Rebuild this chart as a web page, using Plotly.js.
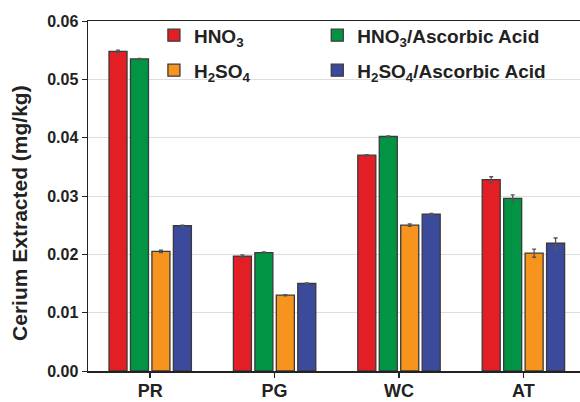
<!DOCTYPE html>
<html>
<head>
<meta charset="utf-8">
<script src="https://cdn.plot.ly/plotly-3.0.1.min.js"></script>
<style>html,body{margin:0;padding:0;background:#fff;}#chart{width:580px;height:402px;}</style>
</head>
<body>
<div id="chart"></div>
<script>
const categories = ["PR", "PG", "WC", "AT"];
const seriesNames = ["HNO<sub>3</sub>", "HNO<sub>3</sub>/Ascorbic Acid", "H<sub>2</sub>SO<sub>4</sub>", "H<sub>2</sub>SO<sub>4</sub>/Ascorbic Acid"];
const hno3 = [0.0548, 0.0197, 0.0370, 0.0328];
const hno3Asc = [0.0535, 0.0203, 0.0402, 0.0296];
const h2so4 = [0.0205, 0.0130, 0.0250, 0.0202];
const h2so4Asc = [0.0249, 0.0150, 0.0269, 0.0219];
const hno3Err = [0.0002, 0.0002, 0.0001, 0.0005];
const hno3AscErr = [0.0001, 0.0001, 0.0001, 0.0006];
const h2so4Err = [0.0002, 0.0001, 0.0002, 0.0007];
const h2so4AscErr = [0.0001, 0.0001, 0.0001, 0.0009];
const colors = ["#e31e24", "#009444", "#f7941d", "#3b4a9b"];
const yTitle = "Cerium Extracted (mg/kg)";

const values = [hno3, hno3Asc, h2so4, h2so4Asc];
const errs = [hno3Err, hno3AscErr, h2so4Err, h2so4AscErr];
const legendIds = ["legend", "legend2", "legend3", "legend4"];

const traces = values.map((v, i) => ({
  type: "bar",
  name: seriesNames[i],
  legend: legendIds[i],
  x: categories,
  y: v,
  marker: {color: colors[i], line: {color: "#3a3a3a", width: 1.3}},
  error_y: {type: "data", array: errs[i], visible: true, color: "#555", thickness: 1.3, width: 2}
}));

const font = {family: "Liberation Sans, Arial, sans-serif", color: "#222", weight: 700};
const legFont = Object.assign({}, font, {size: 19});
function leg(x, y) {
  return {x: x, y: y, xanchor: "left", yanchor: "middle", font: legFont,
          bgcolor: "rgba(0,0,0,0)", borderwidth: 0};
}

const layout = {
  width: 580, height: 402,
  margin: {l: 88, r: 0, t: 21, b: 31},
  paper_bgcolor: "#fff", plot_bgcolor: "#fff",
  barmode: "group", bargap: 0.31, bargroupgap: 0.16,
  showlegend: true,
  legend: leg(0.134, 0.959),
  legend2: leg(0.466, 0.959),
  legend3: leg(0.134, 0.859),
  legend4: leg(0.466, 0.859),
  xaxis: {
    type: "category", range: [-0.5, 3.455],
    showline: true, linecolor: "#222", linewidth: 1.5, mirror: true,
    ticks: "outside", ticklen: 5, tickcolor: "#222", tickwidth: 1.5,
    tickfont: Object.assign({}, font, {size: 18}), ticklabelstandoff: -2,
    showgrid: false, zeroline: false
  },
  yaxis: {
    range: [0, 0.06], dtick: 0.01, tickformat: ".2f",
    showline: true, linecolor: "#222", linewidth: 1.5,
    ticks: "outside", ticklen: 5, tickcolor: "#222", tickwidth: 1,
    tickfont: Object.assign({}, font, {size: 16}),
    showgrid: true, gridcolor: "#dedede", gridwidth: 1, zeroline: false
  },
  annotations: [{
    text: yTitle, xref: "paper", yref: "paper", x: -0.138, y: 0.452,
    xanchor: "center", yanchor: "middle", textangle: -90, showarrow: false,
    font: Object.assign({}, font, {size: 21})
  }]
};

Plotly.newPlot("chart", traces, layout, {displayModeBar: false, staticPlot: true});
</script>
</body>
</html>
